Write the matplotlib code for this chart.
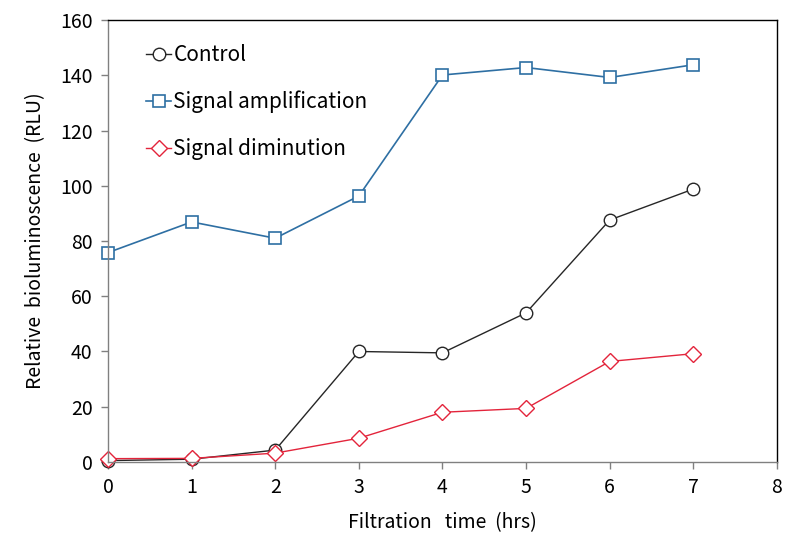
import numpy as np
import matplotlib.pyplot as plt

# === Données ===
hours = [0, 1, 2, 3, 4, 5, 6, 7]
control = [0.5, 1.0, 4.3, 40.0, 39.5, 54.0, 87.6, 98.8]
amplification = [75.8, 86.9, 81.0, 96.3, 140.1, 142.8, 139.2, 143.8]
diminution = [1.2, 1.3, 3.2, 8.6, 18.0, 19.4, 36.4, 39.2]

x_ticks = [0, 1, 2, 3, 4, 5, 6, 7, 8]
y_ticks = [0, 20, 40, 60, 80, 100, 120, 140, 160]

plt.rcParams['font.family'] = ['Noto Sans CJK KR', 'DejaVu Sans']

fig = plt.figure(figsize=(8.07, 5.53), dpi=100)
ax = fig.add_axes([0.1338, 0.1646, 0.829, 0.7992])

ax.plot(hours, control, color='#262626', lw=1.0, marker='o', ms=9,
        mfc='white', mec='#262626', mew=1.0, label='Control', clip_on=False)
ax.plot(hours, amplification, color='#2E6FA3', lw=1.2, marker='s', ms=8.5,
        mfc='white', mec='#2E6FA3', mew=1.2, label='Signal amplification',
        clip_on=False)
ax.plot(hours, diminution, color='#E3243B', lw=1.0, marker='D', ms=8,
        mfc='white', mec='#E3243B', mew=1.0, label='Signal diminution',
        clip_on=False)

ax.set_xlim(0, 8)
ax.set_ylim(0, 160)
ax.set_xticks(x_ticks)
ax.set_yticks(y_ticks)
ax.tick_params(axis='both', direction='out', length=5, width=1.0,
               color='#808080', labelsize=14, pad=6)

ax.spines['left'].set_color('#808080')
ax.spines['bottom'].set_color('#808080')
ax.spines['top'].set_color('black')
ax.spines['right'].set_color('black')
for s in ax.spines.values():
    s.set_linewidth(1.0)

ax.set_xlabel('Filtration   time  (hrs)', fontsize=14, labelpad=10)
ax.set_ylabel('Relative  bioluminoscence  (RLU)', fontsize=14, labelpad=10)

ax.legend(loc='upper left', bbox_to_anchor=(0.045, 0.965), frameon=False,
          fontsize=15, handlelength=1.2, handletextpad=0.1,
          labelspacing=1.2, borderaxespad=0)

fig.savefig('out.png', dpi=100)
